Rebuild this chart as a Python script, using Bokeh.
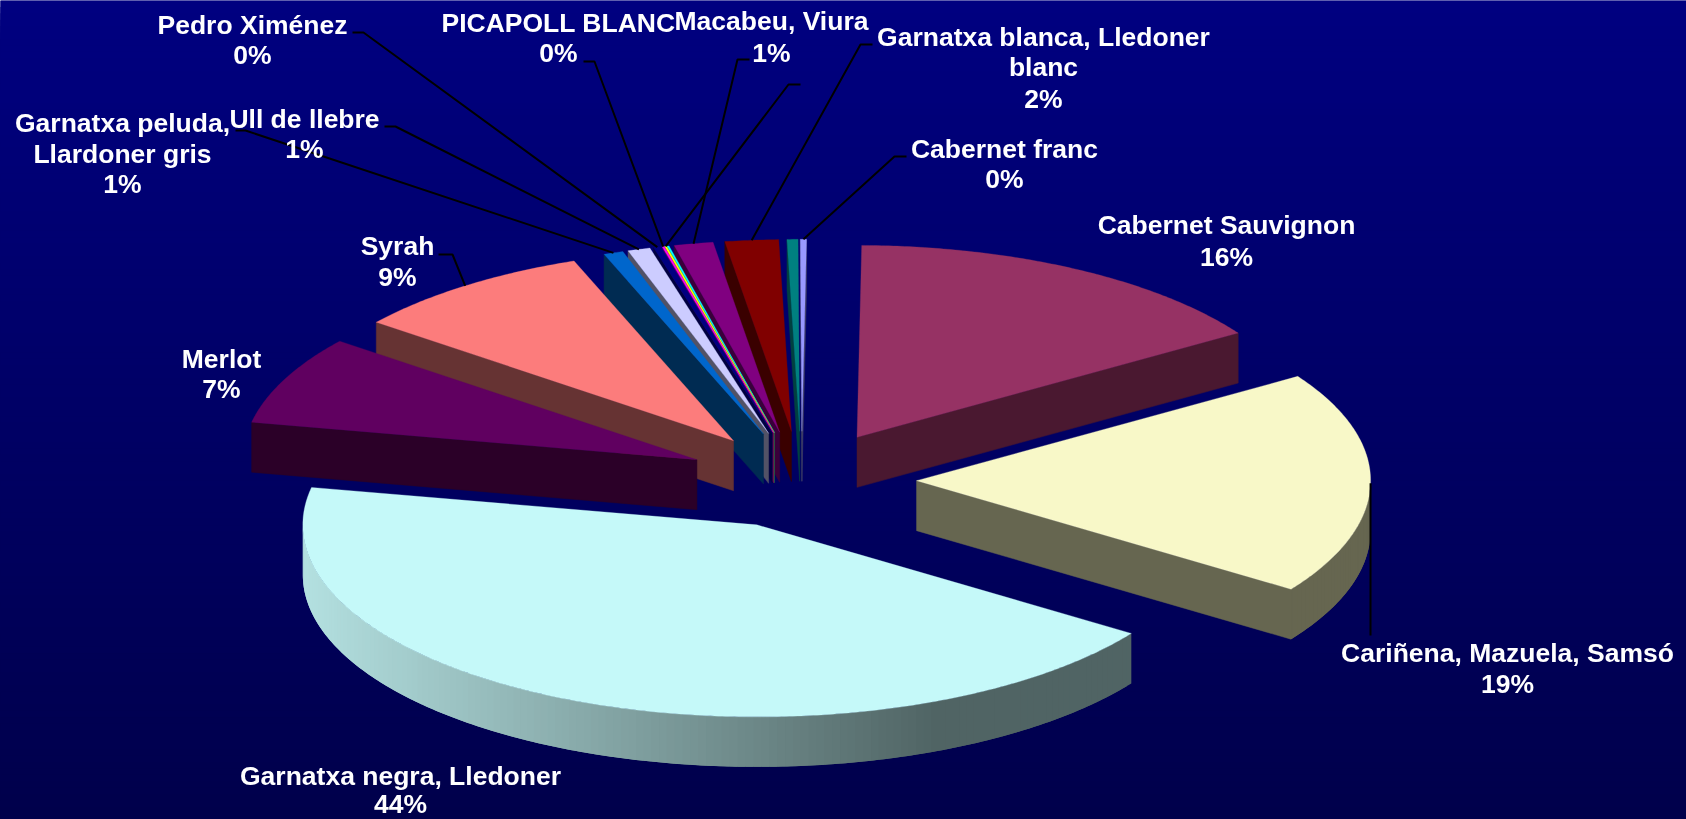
import numpy as np
from bokeh.plotting import figure
from bokeh.models import Range1d
from bokeh.core.properties import value
from bokeh.embed import file_html
from bokeh.resources import INLINE

# ---- data: slices clockwise from 12 o'clock ----
slice_names = ["Cabernet franc", "Cabernet Sauvignon", "Cariñena, Mazuela, Samsó",
               "Garnatxa negra, Lledoner", "Merlot", "Syrah",
               "Garnatxa peluda, Llardoner gris", "Ull de llebre", "Pedro Ximénez",
               "PICAPOLL BLANC", "", "", "Macabeu, Viura",
               "Garnatxa blanca, Lledoner blanc", ""]
slice_values = [0.22, 15.71, 18.72, 43.60, 7.47, 8.71, 0.70, 0.80, 0.27,
                0.07, 0.07, 0.07, 1.39, 1.90, 0.39]
top_colors = ["#9999FF", "#963264", "#F8F8C8", "#C5F9F9", "#600060", "#FC7C7C",
              "#0066CC", "#CCCCFF", "#000080", "#FF00FF", "#FFFF00", "#00FFFF",
              "#800080", "#800000", "#008080"]
side_colors = ["#3D3D66", "#4A1830", "#666650", "#506464", "#2B0028", "#663333",
               "#002B52", "#525266", "#000040", "#660066", "#666600", "#006666",
               "#3A003A", "#3A0000", "#004040"]

# ---- labels: lines of text with their position, and leader stubs ----
label_lines = [
    ("Cabernet Sauvignon", 1226, 224), ("16%", 1226, 256),
    ("Cariñena, Mazuela, Samsó", 1507, 652), ("19%", 1507, 683),
    ("Garnatxa negra, Lledoner", 400, 775), ("44%", 400, 803),
    ("Merlot", 221, 358), ("7%", 221, 388),
    ("Syrah", 397, 245), ("9%", 397, 276),
    ("Garnatxa peluda,", 122, 122), ("Llardoner gris", 122, 153), ("1%", 122, 183),
    ("Ull de llebre", 304, 118), ("1%", 304, 148),
    ("Pedro Ximénez", 252, 24), ("0%", 252, 54),
    ("PICAPOLL BLANC", 558, 22), ("0%", 558, 52),
    ("Macabeu, Viura", 771, 20), ("1%", 771, 52),
    ("Garnatxa blanca, Lledoner", 1043, 36), ("blanc", 1043, 66), ("2%", 1043, 98),
    ("Cabernet franc", 1004, 148), ("0%", 1004, 178),
]
leader_stubs = {
    0: [(906, 156), (894, 156)],
    2: [(1370, 635)],
    5: [(438, 254), (452, 254)],
    6: [(235, 130), (245, 130)],
    7: [(384, 126), (395, 126)],
    8: [(352, 32), (363, 32)],
    9: [(583, 61), (594, 61)],
    10: [(800, 84), (788, 84)],
    12: [(749, 59), (737, 59)],
    13: [(872, 44), (860, 44)],
}

# ---- pie geometry (screen pixels) ----
W, H = 1686, 819
CX, CY = 801.0, 479.5
RX, RY = 454.0, 192.0
EXPLODE = 0.2535
DEPTH = 50.0
START_DEG = -0.2

vals = np.array(slice_values, dtype=float)
spans = vals / vals.sum() * 360.0
ends = START_DEG + np.cumsum(spans)
starts = ends - spans
mids = (starts + ends) / 2


def apex(i):
    t = np.radians(mids[i])
    return CX + RX * EXPLODE * np.sin(t), CY - RY * EXPLODE * np.cos(t)


def rim(i, deg):
    ax, ay = apex(i)
    t = np.radians(deg)
    return ax + RX * np.sin(t), ay - RY * np.cos(t)


def shade(hexcol, f):
    c = [int(hexcol[k:k + 2], 16) for k in (1, 3, 5)]
    return "#%02X%02X%02X" % tuple(int(min(255, v * f)) for v in c)


p = figure(width=W, height=H, toolbar_location=None, output_backend="svg",
           x_range=Range1d(0, W), y_range=Range1d(H, 0),
           x_axis_location=None, y_axis_location=None,
           min_border=0, outline_line_color=None,
           background_fill_color="#000080", border_fill_color="#000080")
p.grid.visible = False
p.styles = {"position": "fixed", "left": "0", "top": "0"}

# vertical gradient background
n_bands = 128
band_top = np.linspace(0, H, n_bands, endpoint=False)
band_col = ["#0000%02X" % int(round(0x80 + (0x4B - 0x80) * k / (n_bands - 1))) for k in range(n_bands)]
p.quad(left=-5, right=W + 5, top=band_top, bottom=H + 5, fill_color=band_col, line_color=None)

# pie, far slices first
order = sorted(range(len(vals)), key=lambda k: -np.cos(np.radians(mids[k])))
for i in order:
    ax, ay = apex(i)
    s, e = starts[i], ends[i]
    # cut faces
    for deg in (s, e):
        sn = np.sin(np.radians(deg))
        if (deg == s and sn < 0) or (deg == e and sn > 0):
            rx_, ry_ = rim(i, deg)
            p.patch([ax, rx_, rx_, ax], [ay, ry_, ry_ + DEPTH, ay + DEPTH],
                    fill_color=side_colors[i], line_color=side_colors[i], line_width=0.5)
    # outer wall, near half only: overlapping bands, painted in order, leave no seams
    a0, a1 = max(s, 90.0), min(e, 270.0)
    if a1 > a0:
        steps = np.arange(a0, a1 + 1.0, 1.0)
        steps[-1] = a1
        for d0, d1 in zip(steps[:-1], steps[1:]):
            u = np.sin(np.radians((d0 + d1) / 2))
            if i == 3 and u < 0.4:
                col = shade(side_colors[i], 1 + 1.25 * (0.4 - u) / 1.4)
            else:
                col = side_colors[i]
            d_far = min(d1 + 1.0, a1)
            seg = np.linspace(d0, d_far, 4)
            rim_pts = [rim(i, d) for d in seg]
            xs = [q[0] for q in rim_pts] + [q[0] for q in rim_pts[::-1]]
            ys = [q[1] for q in rim_pts] + [q[1] + DEPTH for q in rim_pts[::-1]]
            p.patch(xs, ys, fill_color=col, line_color=None)
    # top face
    arc = np.linspace(s, e, max(3, int(e - s) * 2 + 3))
    pts = [rim(i, d) for d in arc]
    p.patch([ax] + [q[0] for q in pts], [ay] + [q[1] for q in pts],
            fill_color=top_colors[i], line_color=top_colors[i], line_width=0.3)

# leader lines end on the middle of their slice's rim
lx, ly = [], []
for i, stub in leader_stubs.items():
    ex, ey = rim(i, mids[i])
    lx.append([q[0] for q in stub] + [ex])
    ly.append([q[1] for q in stub] + [ey])
p.multi_line(lx, ly, line_color="#000000", line_width=2)

# labels
p.text(x=[t[1] for t in label_lines], y=[t[2] for t in label_lines],
       text=[t[0] for t in label_lines],
       text_font=value("Liberation Sans"), text_font_style="bold",
       text_font_size="26.5px", text_color="#FFFFFF",
       text_align="center", text_baseline="middle")

open("out.html", "w").write(file_html(p, INLINE))
